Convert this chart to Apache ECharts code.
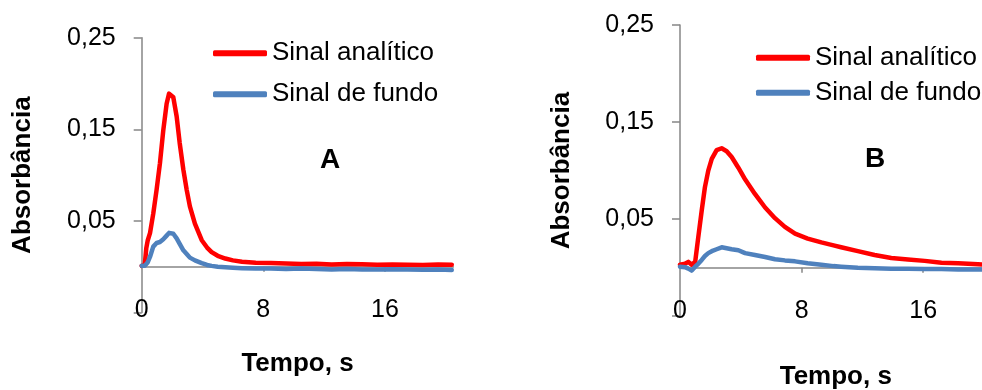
<!DOCTYPE html>
<html>
<head>
<meta charset="utf-8">
<script src="https://cdn.jsdelivr.net/npm/echarts@6/dist/echarts.min.js"></script>
<style>html,body{margin:0;padding:0;background:#fff}#c{width:982px;height:390px}</style>
</head>
<body>
<div id="c"></div>
<script>
// ---- data ----
const seriesNames = ['Sinal analítico', 'Sinal de fundo'];
const xTickValues = [0, 8, 16];
const panelLabels = ['A', 'B'];

const timeA = [0, 0.2, 0.3, 0.4, 0.55, 0.76, 0.98, 1.2, 1.42, 1.64, 1.8, 1.9, 2.08, 2.3, 2.5, 2.74, 2.96, 3.17, 3.5, 3.95, 4.3, 4.6, 5.0, 5.5, 6.0, 6.6, 7.5, 8.5, 9.5, 10.5, 11.5, 12.5, 13.5, 14.5, 15.5, 16.5, 17.5, 18.5, 19.5, 20.4];
const redA = [0.001, 0.002, 0.020, 0.029, 0.037, 0.058, 0.084, 0.113, 0.149, 0.178, 0.189, 0.191, 0.185, 0.164, 0.135, 0.106, 0.084, 0.066, 0.047, 0.029, 0.021, 0.016, 0.012, 0.009, 0.007, 0.0056, 0.0045, 0.004, 0.0035, 0.003, 0.0032, 0.0025, 0.003, 0.0028, 0.0022, 0.0025, 0.0022, 0.002, 0.0024, 0.0022];
const blueA = [0.001, 0.001, 0.002, 0.005, 0.011, 0.022, 0.026, 0.027, 0.030, 0.034, 0.037, 0.038, 0.036, 0.031, 0.025, 0.018, 0.014, 0.010, 0.007, 0.004, 0.002, 0.001, 0.0, -0.0005, -0.001, -0.0015, -0.002, -0.002, -0.0025, -0.002, -0.0025, -0.003, -0.0025, -0.003, -0.003, -0.0028, -0.003, -0.0032, -0.003, -0.0035];

const timeB = [0, 0.33, 0.55, 0.77, 1.0, 1.2, 1.43, 1.64, 1.86, 2.09, 2.41, 2.74, 3.07, 3.4, 3.84, 4.28, 4.93, 5.6, 6.25, 6.9, 7.57, 8.4, 9.3, 10.1, 10.6, 11.7, 12.8, 13.9, 15.0, 16.1, 17.2, 18.3, 19.6, 20.4];
const redB = [0.003, 0.004, 0.006, 0.003, 0.006, 0.031, 0.059, 0.083, 0.100, 0.112, 0.121, 0.123, 0.120, 0.114, 0.103, 0.091, 0.076, 0.062, 0.051, 0.042, 0.035, 0.030, 0.026, 0.023, 0.021, 0.017, 0.013, 0.010, 0.0085, 0.007, 0.005, 0.0045, 0.0035, 0.003];
const blueB = [0.001, 0.0005, -0.001, -0.003, 0.001, 0.004, 0.008, 0.012, 0.015, 0.017, 0.019, 0.021, 0.020, 0.019, 0.018, 0.015, 0.013, 0.011, 0.0087, 0.0075, 0.0065, 0.0045, 0.003, 0.0016, 0.001, 0.0, -0.0005, -0.001, -0.0012, -0.0015, -0.0015, -0.002, -0.002, -0.002];

// ---- styling ----
const FONT = '"Liberation Sans", Arial, sans-serif';
const AX = '#868686';
const RED = '#FF0000';
const BLUE = '#4F81BD';

function pairs(t, v) { return t.map((x, i) => [x, v[i]]); }

const grids = [
  { left: 141.7, top: 37.7, width: 311.6, height: 274.9, outerBoundsMode: 'none', containLabel: false },
  { left: 680, top: 25, width: 311.6, height: 291.2, outerBoundsMode: 'none', containLabel: false }
];
const labelMargins = [-15, -17.4];
const nameGaps = [38, 48];
const yNameGaps = [106, 105];

const xAxes = [], yAxes = [];
grids.forEach((g, i) => {
  xAxes.push({
    type: 'value', gridIndex: i, min: 0, max: 20.5, interval: 8,
    axisLine: { show: true, onZero: true, lineStyle: { color: AX, width: 1.5 } },
    axisTick: { show: true, length: 5, customValues: [8, 16], lineStyle: { color: AX, width: 1.5 } },
    axisLabel: { show: false },
    splitLine: { show: false }
  });
  xAxes.push({
    type: 'value', gridIndex: i, min: 0, max: 20.5, interval: 8, position: 'bottom',
    axisLine: { show: false, onZero: false },
    axisTick: { show: false },
    axisLabel: { show: true, customValues: xTickValues, margin: labelMargins[i], color: '#000', fontSize: 25, lineHeight: 25, fontFamily: FONT },
    splitLine: { show: false },
    name: 'Tempo, s', nameLocation: 'middle', nameGap: nameGaps[i],
    nameTextStyle: { fontSize: 26, fontWeight: 'bold', color: '#000', fontFamily: FONT, lineHeight: 26 }
  });
  yAxes.push({
    type: 'value', gridIndex: i, min: -0.05, max: 0.25, interval: 0.1,
    axisLine: { show: true, lineStyle: { color: AX, width: 1.5 } },
    axisTick: { show: true, length: 8, lineStyle: { color: AX, width: 1.5 } },
    axisLabel: {
      margin: 26, color: '#000', fontSize: 25, fontFamily: FONT,
      formatter: v => v < 0 ? '' : v.toFixed(2).replace('.', ',')
    },
    splitLine: { show: false },
    name: 'Absorbância', nameLocation: 'middle', nameGap: yNameGaps[i], nameRotate: 90,
    nameTextStyle: { fontSize: 26, fontWeight: 'bold', color: '#000', fontFamily: FONT }
  });
});

function line(name, color, xi, yi, data) {
  return {
    type: 'line', name: name, xAxisIndex: xi, yAxisIndex: yi, data: data,
    showSymbol: false, symbol: 'none', smooth: false, color: color,
    lineStyle: { color: color, width: 4.5, cap: 'round', join: 'round' },
    emphasis: { disabled: true }
  };
}

const series = [
  line(seriesNames[0], RED, 0, 0, pairs(timeA, redA)),
  line(seriesNames[1], BLUE, 0, 0, pairs(timeA, blueA)),
  line(seriesNames[0], RED, 2, 1, pairs(timeB, redB)),
  line(seriesNames[1], BLUE, 2, 1, pairs(timeB, blueB))
];

const legendCommon = {
  orient: 'vertical', icon: 'roundRect', itemWidth: 54, itemHeight: 6,
  selectedMode: false, padding: 0,
  textStyle: { fontSize: 26, color: '#000', fontFamily: FONT, lineHeight: 26 },
  data: seriesNames
};

const option = {
  animation: false,
  backgroundColor: '#fff',
  grid: grids,
  xAxis: xAxes,
  yAxis: yAxes,
  legend: [
    Object.assign({}, legendCommon, { left: 213, top: 40.3, itemGap: 15 }),
    Object.assign({}, legendCommon, { left: 756, top: 44.7, itemGap: 9 })
  ],
  title: [
    { text: panelLabels[0], left: 330, top: 160, padding: 0, textAlign: 'center', textVerticalAlign: 'middle',
      textStyle: { fontSize: 28, fontWeight: 'bold', color: '#000', fontFamily: FONT } },
    { text: panelLabels[1], left: 875, top: 159, padding: 0, textAlign: 'center', textVerticalAlign: 'middle',
      textStyle: { fontSize: 28, fontWeight: 'bold', color: '#000', fontFamily: FONT } }
  ],
  series: series
};

const chart = echarts.init(document.getElementById('c'), null, { renderer: 'canvas' });
chart.setOption(option);
</script>
</body>
</html>
